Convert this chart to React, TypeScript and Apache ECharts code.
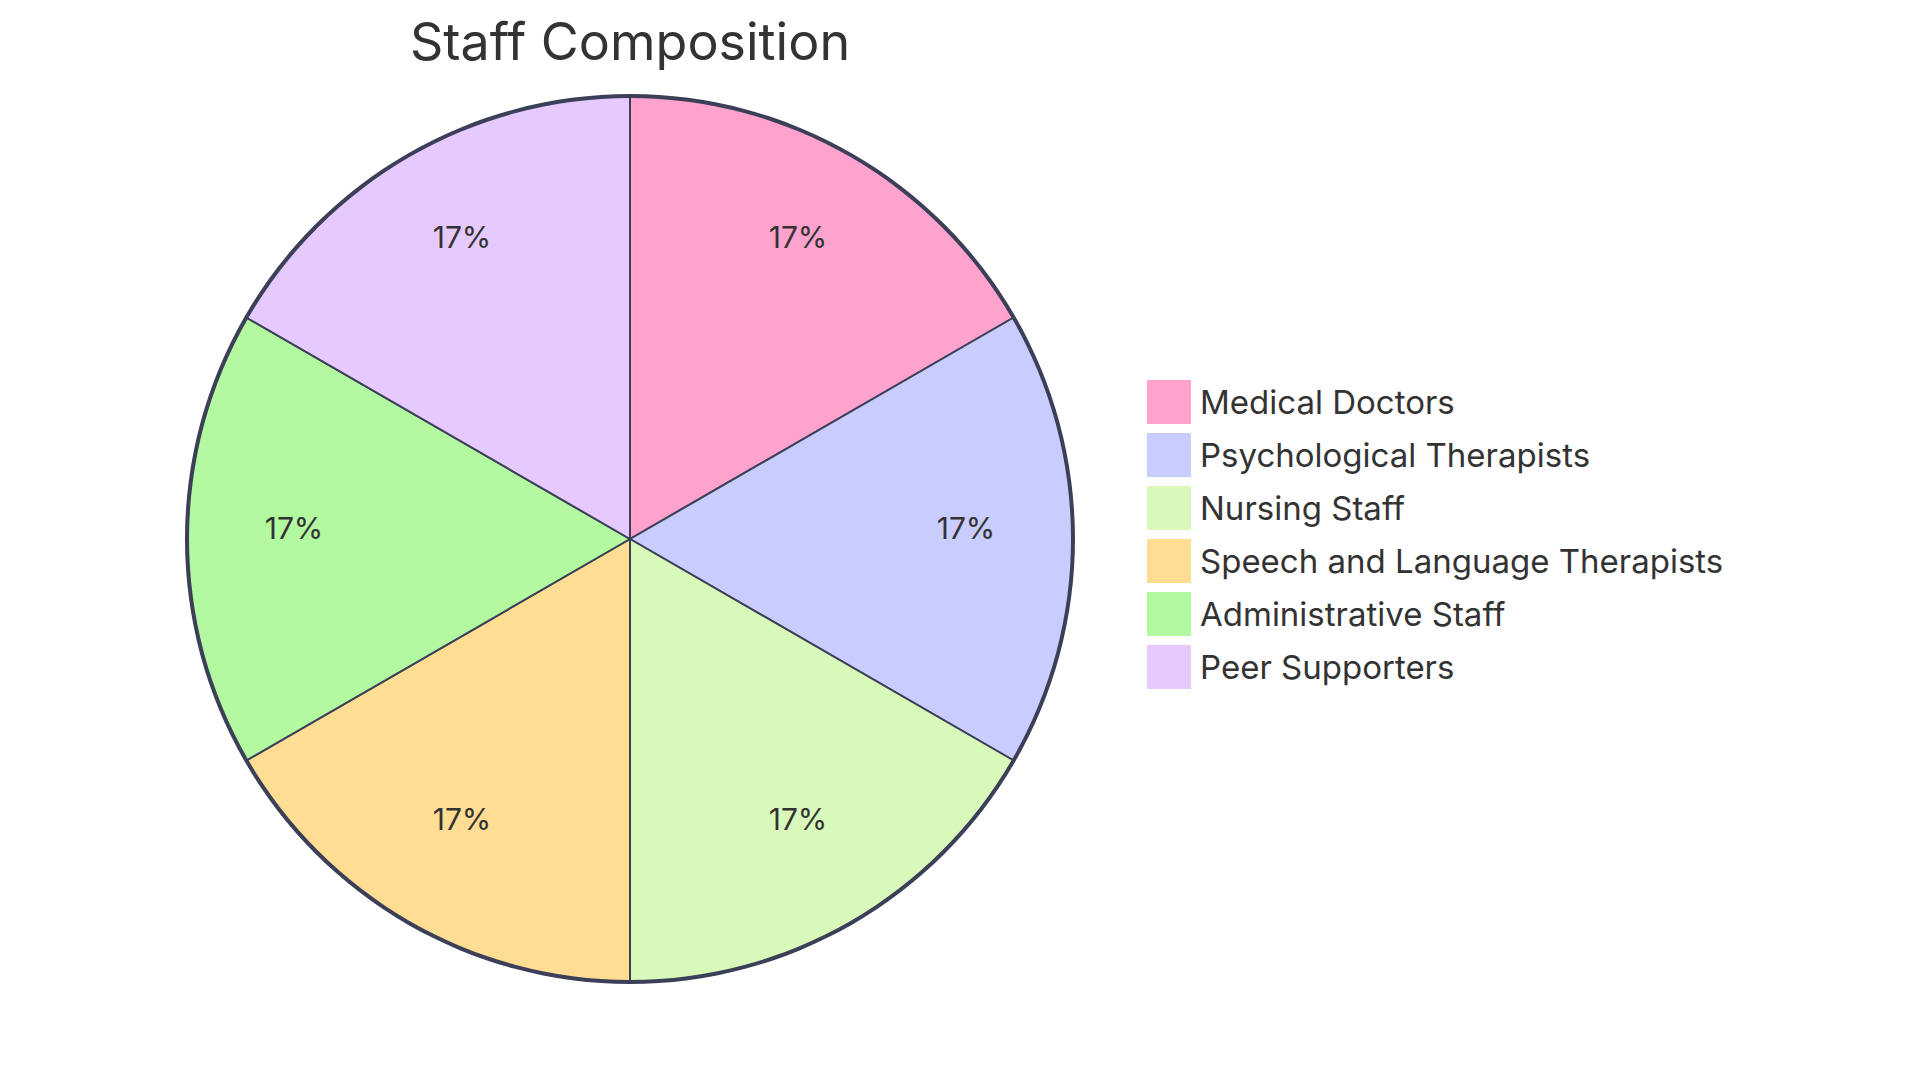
import React, { useEffect, useRef } from "react";
import * as echarts from "echarts";

const titleText = "Staff Composition";
const categories = [
  "Medical Doctors",
  "Psychological Therapists",
  "Nursing Staff",
  "Speech and Language Therapists",
  "Administrative Staff",
  "Peer Supporters",
];
const values = [1, 1, 1, 1, 1, 1];
const colors = ["#FFA3CE", "#C9CCFF", "#D9F9BB", "#FFDD93", "#B3F9A0", "#E6CAFF"];

const FONT = "Inter, 'Open Sans', sans-serif";
const STROKE = "#3C3F58";

export default function App() {
  const ref = useRef<HTMLDivElement>(null);
  useEffect(() => {
    document.body.style.margin = "0";
    if (!ref.current) return;
    const chart = echarts.init(ref.current, null, { renderer: "svg" });
    const data = categories.map((name, i) => ({
      name,
      value: values[i],
      itemStyle: { color: colors[i] },
    }));
    chart.setOption({
      animation: false,
      backgroundColor: "#ffffff",
      title: {
        text: titleText,
        left: 625,
        top: 10,
        textAlign: "center",
        textStyle: { fontFamily: FONT, fontSize: 52, fontWeight: 400, color: "#333333" },
      },
      legend: {
        data: categories,
        orient: "vertical",
        left: 1142,
        top: 375,
        itemWidth: 44,
        itemHeight: 44,
        itemGap: 9,
        icon: "rect",
        itemStyle: { borderWidth: 0 },
        textStyle: { fontFamily: FONT, fontSize: 33, color: "#333333", padding: [0, 0, 0, 4] },
      },
      series: [
        {
          type: "pie",
          center: [630, 539],
          radius: [0, 443],
          startAngle: 90,
          clockwise: true,
          silent: true,
          label: { show: false },
          labelLine: { show: false },
          itemStyle: { borderColor: STROKE, borderWidth: 2 },
          data,
        },
        {
          type: "pie",
          center: [630, 528],
          radius: [223, 443],
          startAngle: 90,
          clockwise: true,
          silent: true,
          itemStyle: { color: "rgba(0,0,0,0)", borderWidth: 0 },
          label: {
            show: true,
            position: "inside",
            fontFamily: FONT,
            fontSize: 30,
            color: "#333333",
            formatter: (p: any) => Math.round(p.percent) + "%",
          },
          labelLine: { show: false },
          data: categories.map((name, i) => ({ name, value: values[i] })),
        },
        {
          type: "pie",
          center: [630, 539],
          radius: [441, 445],
          silent: true,
          label: { show: false },
          labelLine: { show: false },
          itemStyle: { color: STROKE },
          data: [{ name: "outline", value: 1 }],
        },
      ],
    });
    return () => chart.dispose();
  }, []);
  return <div ref={ref} style={{ width: 1920, height: 1080 }} />;
}
